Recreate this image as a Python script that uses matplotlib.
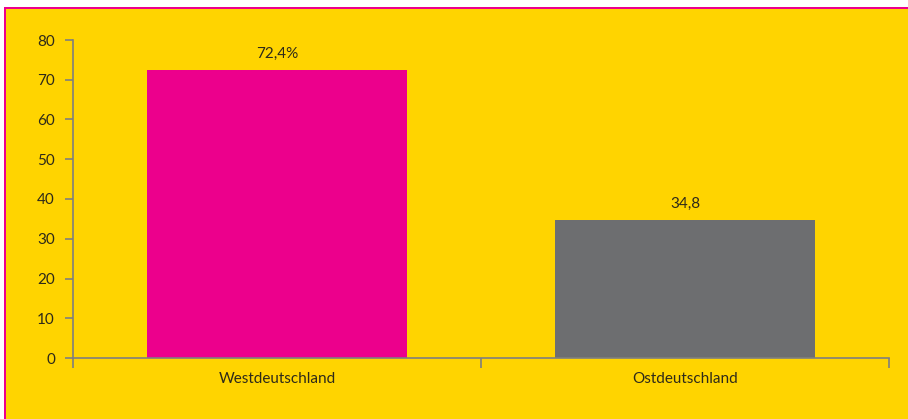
import matplotlib
matplotlib.use("Agg")
import matplotlib.pyplot as plt
from matplotlib.patches import Rectangle

categories = ["Westdeutschland", "Ostdeutschland"]
values = [72.4, 34.8]
value_labels = ["72,4%", "34,8"]
bar_colors = ["#EC008C", "#6D6E70"]
yticks = [0, 10, 20, 30, 40, 50, 60, 70, 80]

W, H = 908, 419
dpi = 100
fig = plt.figure(figsize=(W / dpi, H / dpi), dpi=dpi)
fig.patch.set_facecolor("white")
plt.rcParams["font.family"] = ["Lato", "DejaVu Sans"]

yellow = "#FFD400"
pink = "#EC008C"
# background decorations (pixel-based)
fig.add_artist(Rectangle((4 / W, 0), (W - 4) / W, (H - 7) / H, transform=fig.transFigure,
                         facecolor=pink, edgecolor="none", zorder=0))
fig.add_artist(Rectangle((6 / W, 0), (W - 6) / W, (H - 9) / H, transform=fig.transFigure,
                         facecolor=yellow, edgecolor="none", zorder=0))

left, right = 73, 889
top, bottom = 40, 358
ax = fig.add_axes([left / W, 1 - bottom / H, (right - left) / W, (bottom - top) / H])
ax.set_facecolor("none")

x = list(range(len(categories)))
ax.bar(x, values, width=0.637, color=bar_colors, edgecolor="none", zorder=2)
ax.set_xlim(-0.5, len(categories) - 0.5)
ax.set_ylim(0, 80)

text_color = "#2E2A1A"
axis_color = "#7F7F7F"
fs = 11
for xi, v, lab in zip(x, values, value_labels):
    ax.text(xi, v + 2.3, lab, ha="center", va="bottom", fontsize=fs,
            color=text_color)

for s in ["top", "right"]:
    ax.spines[s].set_visible(False)
for s in ["left", "bottom"]:
    ax.spines[s].set_color(axis_color)
    ax.spines[s].set_linewidth(1.2)

ax.set_yticks(yticks)
ax.set_yticklabels([str(t) for t in yticks], fontsize=fs, color=text_color)
ax.tick_params(axis="y", length=6, width=1.2, color=axis_color, pad=7)

ax.set_xticks(x)
ax.set_xticklabels(categories, fontsize=fs, color=text_color)
ax.tick_params(axis="x", length=0, pad=10)
# category boundary ticks
ax.set_xticks([-0.5, 0.5, 1.5], minor=True)
ax.tick_params(axis="x", which="minor", length=7, width=1.2, color=axis_color)

fig.savefig("out.png", dpi=dpi, facecolor=fig.get_facecolor())
